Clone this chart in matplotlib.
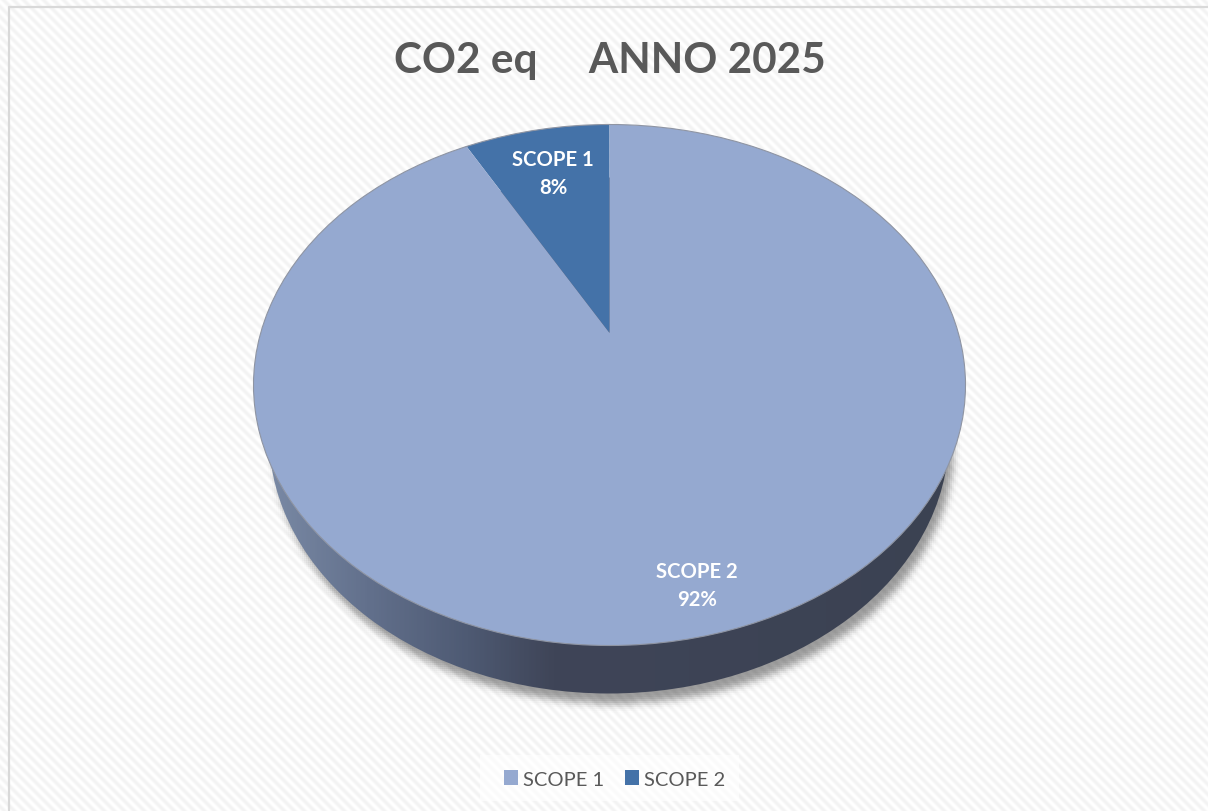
import numpy as np
import matplotlib
matplotlib.use('Agg')
import matplotlib.pyplot as plt
import matplotlib.transforms as mtransforms
from matplotlib.colors import LinearSegmentedColormap
from matplotlib.patches import Ellipse, Rectangle

plt.rcParams['font.family'] = ['Lato', 'DejaVu Sans']

# data
title = 'CO2 eq     ANNO 2025'
slice_labels = ['SCOPE 1', 'SCOPE 2']
slice_values = [8, 92]
slice_colors = ['#4472A8', '#95A9D0']
legend_labels = ['SCOPE 1', 'SCOPE 2']

W, H = 1208, 812
TILT = 0.2   # how far the pie apex sits above the middle of the ellipse


class Tilt(mtransforms.Transform):
    # perspective of the unit circle, so the far slice looks compressed
    input_dims = 2
    output_dims = 2

    def transform_non_affine(self, xy):
        xy = np.asarray(xy)
        d = TILT * xy[:, 1] + 1
        return np.column_stack([xy[:, 0] * np.sqrt(1 - TILT ** 2) / d,
                                (xy[:, 1] + TILT) / d])


def blur(img, n):
    kernel = np.ones(n) / n
    for i in range(3):
        img = np.apply_along_axis(np.convolve, 0, img, kernel, mode='same')
        img = np.apply_along_axis(np.convolve, 1, img, kernel, mode='same')
    return img


fig = plt.figure(figsize=(W / 100, H / 100), dpi=100)

# background: diagonal stripes + soft shadow under the disc
bg = fig.add_axes([0, 0, 1, 1], zorder=0)
yy, xx = np.mgrid[0:H, 0:W]
stripes = 0.5 + 0.5 * np.sin(2 * np.pi * (xx - yy) / 10.0)
base = 1.0 - 0.05 * stripes
mask = (((xx - 610) / 340.0) ** 2 + ((yy - 442.5) / 258.0) ** 2 < 1).astype(float)
shadow = blur(mask[::2, ::2], 4)
shadow = np.repeat(np.repeat(shadow, 2, axis=0), 2, axis=1)[:H, :W]
base = base * (1 - 0.38 * shadow)
bg.imshow(base, cmap='gray', vmin=0, vmax=1, extent=(0, W, H, 0), aspect='auto',
          interpolation='bilinear')
bg.set_xlim(0, W)
bg.set_ylim(H, 0)
bg.axis('off')

# frame, only top and left show up
bg.plot([8.5, 8.5, W], [H, 7.5, 7.5], color='#d9d9d9', lw=1.6)

# side wall of the disc with its gradient
wall_cmap = LinearSegmentedColormap.from_list(
    'wall', [(0, '#7d8da8'), (0.16, '#62708c'), (0.3, '#4e5a73'),
             (0.42, '#3f4558'), (1, '#3b4252')])
grad = np.linspace(0, 1, 400).reshape(1, -1)
wall = bg.imshow(grad, cmap=wall_cmap, extent=(253, 965, 695, 170), aspect='auto')
wall_shape = Ellipse((609, 436.5), 680, 516, transform=bg.transData, fc='none', ec='none')
bg.add_patch(wall_shape)
wall.set_clip_path(wall_shape)
bg.set_xlim(0, W)
bg.set_ylim(H, 0)

# the pie itself
ax = fig.add_axes([253.5 / W, (H - 646.5) / H, 712 / W, 521 / H], zorder=1)
wedges, _ = ax.pie(slice_values, colors=slice_colors, startangle=90,
                   wedgeprops={'linewidth': 0})
ax.set_aspect('auto')
ax.set_xlim(-1, 1)
ax.set_ylim(-1, 1)
ax.axis('off')
for w in wedges:
    w.set_transform(Tilt() + ax.transData)
    w.set_clip_on(False)
ax.add_patch(Ellipse((0, 0), 2, 2, fc='none', ec='#8f95a3', lw=0.8, clip_on=False))

# slice labels
label_pos = [(553, 174), (697, 585.5)]
for lab, val, (px, py) in zip(slice_labels, slice_values, label_pos):
    fig.text(px / W, 1 - py / H, lab + '\n' + str(val) + '%', color='white', fontsize=14.6,
             fontweight='bold', ha='center', va='center', linespacing=1.5)

fig.text(609.5 / W, 1 - 61.5 / H, title, color='#595959', fontsize=30.4, fontweight='bold',
         ha='center', va='center')

# legend box + swatches
bg.add_patch(Rectangle((480, 756), 259, 46, fc='white', ec='none', alpha=0.65, zorder=4))
leg = fig.legend([wedges[1], wedges[0]], legend_labels, ncol=2, frameon=False,
                 loc='center', bbox_to_anchor=(614.5 / W, 1 - 780 / H),
                 prop={'size': 14.5}, labelcolor='#595959', handlelength=0.7,
                 handleheight=0.7, handletextpad=0.25, columnspacing=1.0)

fig.savefig('out.png', dpi=100)
